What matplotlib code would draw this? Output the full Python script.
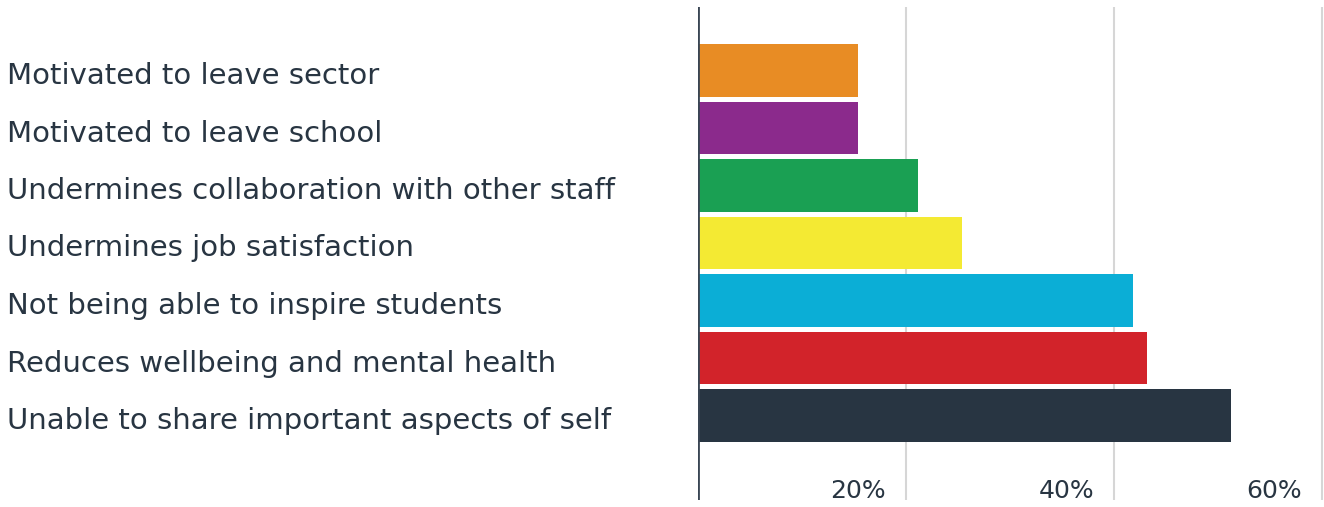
import matplotlib
matplotlib.use("Agg")
import matplotlib.pyplot as plt

categories = [
    "Motivated to leave sector",
    "Motivated to leave school",
    "Undermines collaboration with other staff",
    "Undermines job satisfaction",
    "Not being able to inspire students",
    "Reduces wellbeing and mental health",
    "Unable to share important aspects of self",
]
values = [15.4, 15.4, 21.2, 25.4, 41.8, 43.2, 51.3]
colors = ["#E88C24", "#8B2A8C", "#1AA053", "#F4EA33", "#0BAED6", "#D2232A", "#283542"]
tick_values = [20, 40, 60]
tick_labels = ["20%", "40%", "60%"]

text_color = "#283542"
plt.rcParams["font.family"] = ["DejaVu Sans"]

W, H = 1324, 507
fig = plt.figure(figsize=(W / 100, H / 100), dpi=100)
x0, x1 = 697.5, 1324
y_top, y_bot = 7, 500
ax = fig.add_axes([x0 / W, 1 - y_bot / H, (x1 - x0) / W, (y_bot - y_top) / H])

pitch = 57.5
first_center = 70.5
ax.set_ylim((y_bot - first_center) / pitch, (y_top - first_center) / pitch)
ax.set_xlim(0, 60 * (x1 - x0) / (1322 - x0))

ys = list(range(len(categories)))
ax.barh(ys, values, height=0.92, color=colors, zorder=2)

for t in tick_values:
    ax.axvline(t, color="#d6d6d6", lw=1.5, zorder=1)
ax.axvline(0, color="#3a4654", lw=2, zorder=3)

# percentage labels sit at the bottom of the plot area, left of each gridline
for t, lab in zip(tick_values, tick_labels):
    ax.text(t - 1.9, 0.004, lab, transform=ax.get_xaxis_transform(),
            ha="right", va="baseline", fontsize=18, color=text_color)

for y, cat in zip(ys, categories):
    fig.text(7 / W, 1 - (first_center + pitch * y + 13.5) / H, cat,
             ha="left", va="baseline", fontsize=21, color=text_color)

ax.set_xticks([])
ax.set_yticks([])
for s in ax.spines.values():
    s.set_visible(False)

fig.savefig("out.png", dpi=100, facecolor="white")
